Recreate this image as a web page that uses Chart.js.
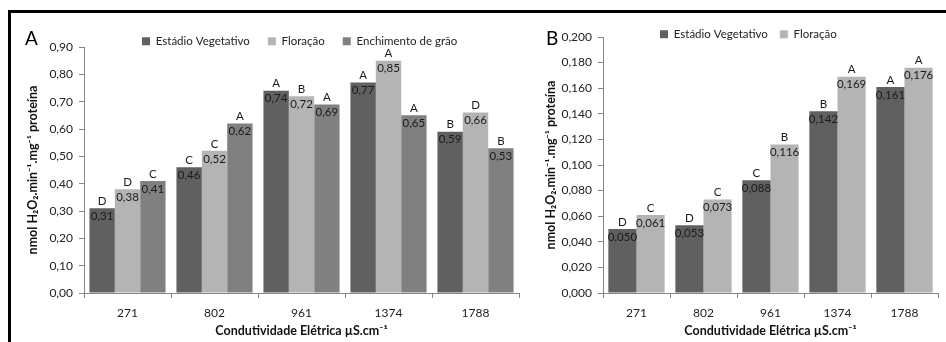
<!DOCTYPE html>
<html>
<head>
<meta charset="utf-8">
<script src="https://cdn.jsdelivr.net/npm/chart.js@4"></script>
<style>
  body { margin: 0; background: #fff; }
  #wrap { position: relative; width: 946px; height: 342px; overflow: hidden; }
  #frameTop { position: absolute; left: 8px; top: 10px; width: 940px; height: 0; border-top: 3px solid #000; }
  #frameLeft { position: absolute; left: 8px; top: 10px; width: 0; height: 340px; border-left: 3px solid #000; }
  canvas { position: absolute; top: 0; }
  #chartA { left: 0; }
  #chartB { left: 520px; }
</style>
</head>
<body>
<div id="wrap">
  <canvas id="chartA" width="520" height="342"></canvas>
  <canvas id="chartB" width="426" height="342"></canvas>
  <div id="frameTop"></div>
  <div id="frameLeft"></div>
</div>
<script>
// categories (condutividade elétrica)
var categories = ["271", "802", "961", "1374", "1788"];

// painel A
var vegetativoA = [0.31, 0.46, 0.74, 0.77, 0.59];
var floracaoA = [0.38, 0.52, 0.72, 0.85, 0.66];
var enchimentoA = [0.41, 0.62, 0.69, 0.65, 0.53];
var letrasVegA = ["D", "C", "A", "A", "B"];
var letrasFloA = ["D", "C", "B", "A", "D"];
var letrasEncA = ["C", "A", "A", "A", "B"];

// painel B
var vegetativoB = [0.050, 0.053, 0.088, 0.142, 0.161];
var floracaoB = [0.061, 0.073, 0.116, 0.169, 0.176];
var letrasVegB = ["D", "D", "C", "B", "A"];
var letrasFloB = ["C", "C", "B", "A", "A"];

var yTitle = "nmol H\u2082O\u2082.min\u207B\u00B9.mg\u207B\u00B9 proteína";
var xTitle = "Condutividade Elétrica µS.cm\u207B\u00B9";

Chart.defaults.font.family = "Lato, 'Noto Sans', sans-serif";
Chart.defaults.color = "#222";

var corVeg = "#606060";
var corFlo = "#b4b4b4";
var corEnc = "#808080";
var corEixo = "#868686";

// move the legend where the original has it
var legendShift = {
    id: 'legendShift',
    afterLayout: function (chart, args, opts) {
        var lg = chart.legend;
        if (!lg) return;
        lg.left += opts.x; lg.right += opts.x;
        lg.top += opts.y; lg.bottom += opts.y;
    }
};

// letter above the bar, value just under its top
var barLabels = {
    id: 'barLabels',
    afterDatasetsDraw: function (chart, args, opts) {
        var ctx = chart.ctx;
        ctx.save();
        ctx.fillStyle = "#1a1a1a";
        ctx.textAlign = "center";
        ctx.textBaseline = "middle";
        ctx.font = "11.5px Lato, 'Noto Sans', sans-serif";
        chart.data.datasets.forEach(function (ds, i) {
            var meta = chart.getDatasetMeta(i);
            meta.data.forEach(function (bar, j) {
                ctx.fillText(ds.letters[j], bar.x, bar.y - 7);
                ctx.fillText(ds.data[j].toFixed(opts.decimals).replace('.', ','), bar.x, bar.y + 8);
            });
        });
        // panel letter
        ctx.textAlign = "left";
        ctx.textBaseline = "alphabetic";
        ctx.font = "19px Lato, 'Noto Sans', sans-serif";
        ctx.fillStyle = "#000";
        ctx.fillText(opts.panel, opts.px, 45);
        ctx.restore();
    }
};

function makeChart(id, datasets, opt) {
    var ctx = document.getElementById(id).getContext('2d');
    return new Chart(ctx, {
        type: 'bar',
        data: { labels: categories, datasets: datasets },
        plugins: [legendShift, barLabels],
        options: {
            responsive: false,
            animation: false,
            devicePixelRatio: 1,
            layout: { padding: { left: opt.padLeft, top: opt.padTop, right: opt.padRight, bottom: 0 } },
            datasets: { bar: { categoryPercentage: opt.catPct, barPercentage: 1.0 } },
            plugins: {
                tooltip: { enabled: false },
                legend: {
                    position: 'top',
                    align: 'start',
                    fullSize: false,
                    labels: { boxWidth: 8, boxHeight: 8, padding: opt.legendPad, font: { size: 11.5 }, color: "#222" }
                },
                legendShift: { x: opt.legendX, y: opt.legendY },
                barLabels: { decimals: opt.decimals, panel: opt.panel, px: opt.panelX }
            },
            scales: {
                x: {
                    grid: { display: true, drawOnChartArea: false, drawTicks: true, tickLength: 5, color: corEixo, offset: true },
                    border: { display: true, color: corEixo },
                    ticks: { font: { size: 12 }, padding: 8, color: "#222", maxRotation: 0 },
                    title: { display: true, text: xTitle, font: { size: 12.5, weight: 'bold' }, padding: { top: 0, bottom: 4 }, color: "#111" },
                    afterFit: function (s) { s.height = 49; }
                },
                y: {
                    min: 0,
                    max: opt.yMax,
                    grid: { display: true, drawOnChartArea: false, drawTicks: true, tickLength: 5, color: corEixo },
                    border: { display: true, color: corEixo },
                    ticks: {
                        stepSize: opt.step,
                        font: { size: 12 },
                        padding: 6,
                        color: "#222",
                        callback: function (v) { return Number(v).toFixed(opt.decimals).replace('.', ','); }
                    },
                    title: { display: true, text: yTitle, font: { size: 12.5, weight: 'bold' }, padding: { top: 0, bottom: 0 }, color: "#111" },
                    afterFit: function (s) { s.width = opt.yWidth; }
                }
            }
        }
    });
}

makeChart("chartA", [
    { label: "Estádio Vegetativo", data: vegetativoA, letters: letrasVegA, backgroundColor: corVeg, borderWidth: 0 },
    { label: "Floração", data: floracaoA, letters: letrasFloA, backgroundColor: corFlo, borderWidth: 0 },
    { label: "Enchimento de grão", data: enchimentoA, letters: letrasEncA, backgroundColor: corEnc, borderWidth: 0 }
], { padLeft: 25, padTop: 7.5, padRight: 1, yWidth: 59, catPct: 0.875, legendPad: 18, legendX: 40, legendY: 10,
     yMax: 0.9, step: 0.1, decimals: 2, panel: "A", panelX: 25 });

makeChart("chartB", [
    { label: "Estádio Vegetativo", data: vegetativoB, letters: letrasVegB, backgroundColor: corVeg, borderWidth: 0 },
    { label: "Floração", data: floracaoB, letters: letrasFloB, backgroundColor: corFlo, borderWidth: 0 }
], { padLeft: 23, padTop: 3.5, padRight: 8, yWidth: 60, catPct: 0.84, legendPad: 12, legendX: 45, legendY: 13,
     yMax: 0.2, step: 0.02, decimals: 3, panel: "B", panelX: 26 });
</script>
</body>
</html>
